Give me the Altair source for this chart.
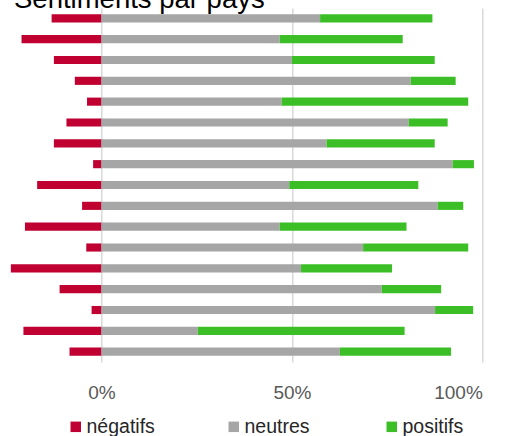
import altair as alt
import pandas as pd

pays = [f"Pays {i}" for i in range(1, 18)]
negatifs = [13.1, 21.0, 12.5, 7.0, 3.8, 9.2, 12.5, 2.2, 16.9, 5.1, 20.1, 4.0, 23.8, 11.0, 2.6, 20.5, 8.4]
neutres = [57.4, 46.8, 50.0, 81.2, 47.3, 80.7, 59.1, 92.2, 49.3, 88.3, 46.8, 68.7, 52.4, 73.6, 87.6, 25.3, 62.6]
positifs = [29.5, 32.3, 37.5, 11.8, 49.0, 10.2, 28.4, 5.6, 33.9, 6.7, 33.3, 27.6, 23.9, 15.6, 10.0, 54.3, 29.2]

categories = ["négatifs", "neutres", "positifs"]
colors = ["#C00030", "#A6A6A6", "#3CBF26"]

rows = []
for p, ng, nu, po in zip(pays, negatifs, neutres, positifs):
    rows.append({"pays": p, "sentiment": "négatifs", "start": -ng / 100, "end": 0.0})
    rows.append({"pays": p, "sentiment": "neutres", "start": 0.0, "end": nu / 100})
    rows.append({"pays": p, "sentiment": "positifs", "start": nu / 100, "end": (nu + po) / 100})
df = pd.DataFrame(rows)

FONT = "Liberation Sans"

chart = (
    alt.Chart(df)
    .mark_bar()
    .encode(
        x=alt.X(
            "start:Q",
            title=None,
            scale=alt.Scale(domain=[-0.25, 1.0], nice=False, zero=False),
            axis=alt.Axis(
                values=[0, 0.5, 1],
                format="%",
                grid=True,
                gridColor="#D9D9D9",
                gridWidth=1.5,
                domain=False,
                ticks=False,
                tickSize=0,
                labelFont=FONT,
                labelFontSize=19,
                labelColor="#595959",
                labelPadding=21,
            ),
        ),
        x2="end:Q",
        y=alt.Y(
            "pays:N",
            sort=pays,
            axis=None,
            scale=alt.Scale(paddingInner=0.61, paddingOuter=0.3),
        ),
        color=alt.Color(
            "sentiment:N",
            scale=alt.Scale(domain=categories, range=colors),
            legend=alt.Legend(
                title=None,
                orient="none",
                legendX=59.7,
                legendY=408.7,
                direction="horizontal",
                columns=3,
                gridAlign="all",
                columnPadding=69,
                symbolType="square",
                symbolSize=110,
                symbolStrokeWidth=0,
                labelFont=FONT,
                labelFontSize=19.5,
                labelColor="#262626",
                labelOffset=1,
                padding=0,
            ),
        ),
    )
    .properties(
        width=476,
        height=354,
        autosize=alt.AutoSizeParams(type="none"),
        padding={"left": 6.3, "top": 8, "right": 26.7, "bottom": 74},
        background="white",
        title=alt.TitleParams(
            "Sentiments par pays",
            anchor="start",
            font=FONT,
            fontSize=27.5,
            fontWeight="normal",
            color="#000000",
            baseline="alphabetic",
            offset=-27,
            dx=7.7,
        ),
    )
    .configure_view(stroke=None)
)

chart.save("out.html", embed_options={"renderer": "svg", "actions": False})
